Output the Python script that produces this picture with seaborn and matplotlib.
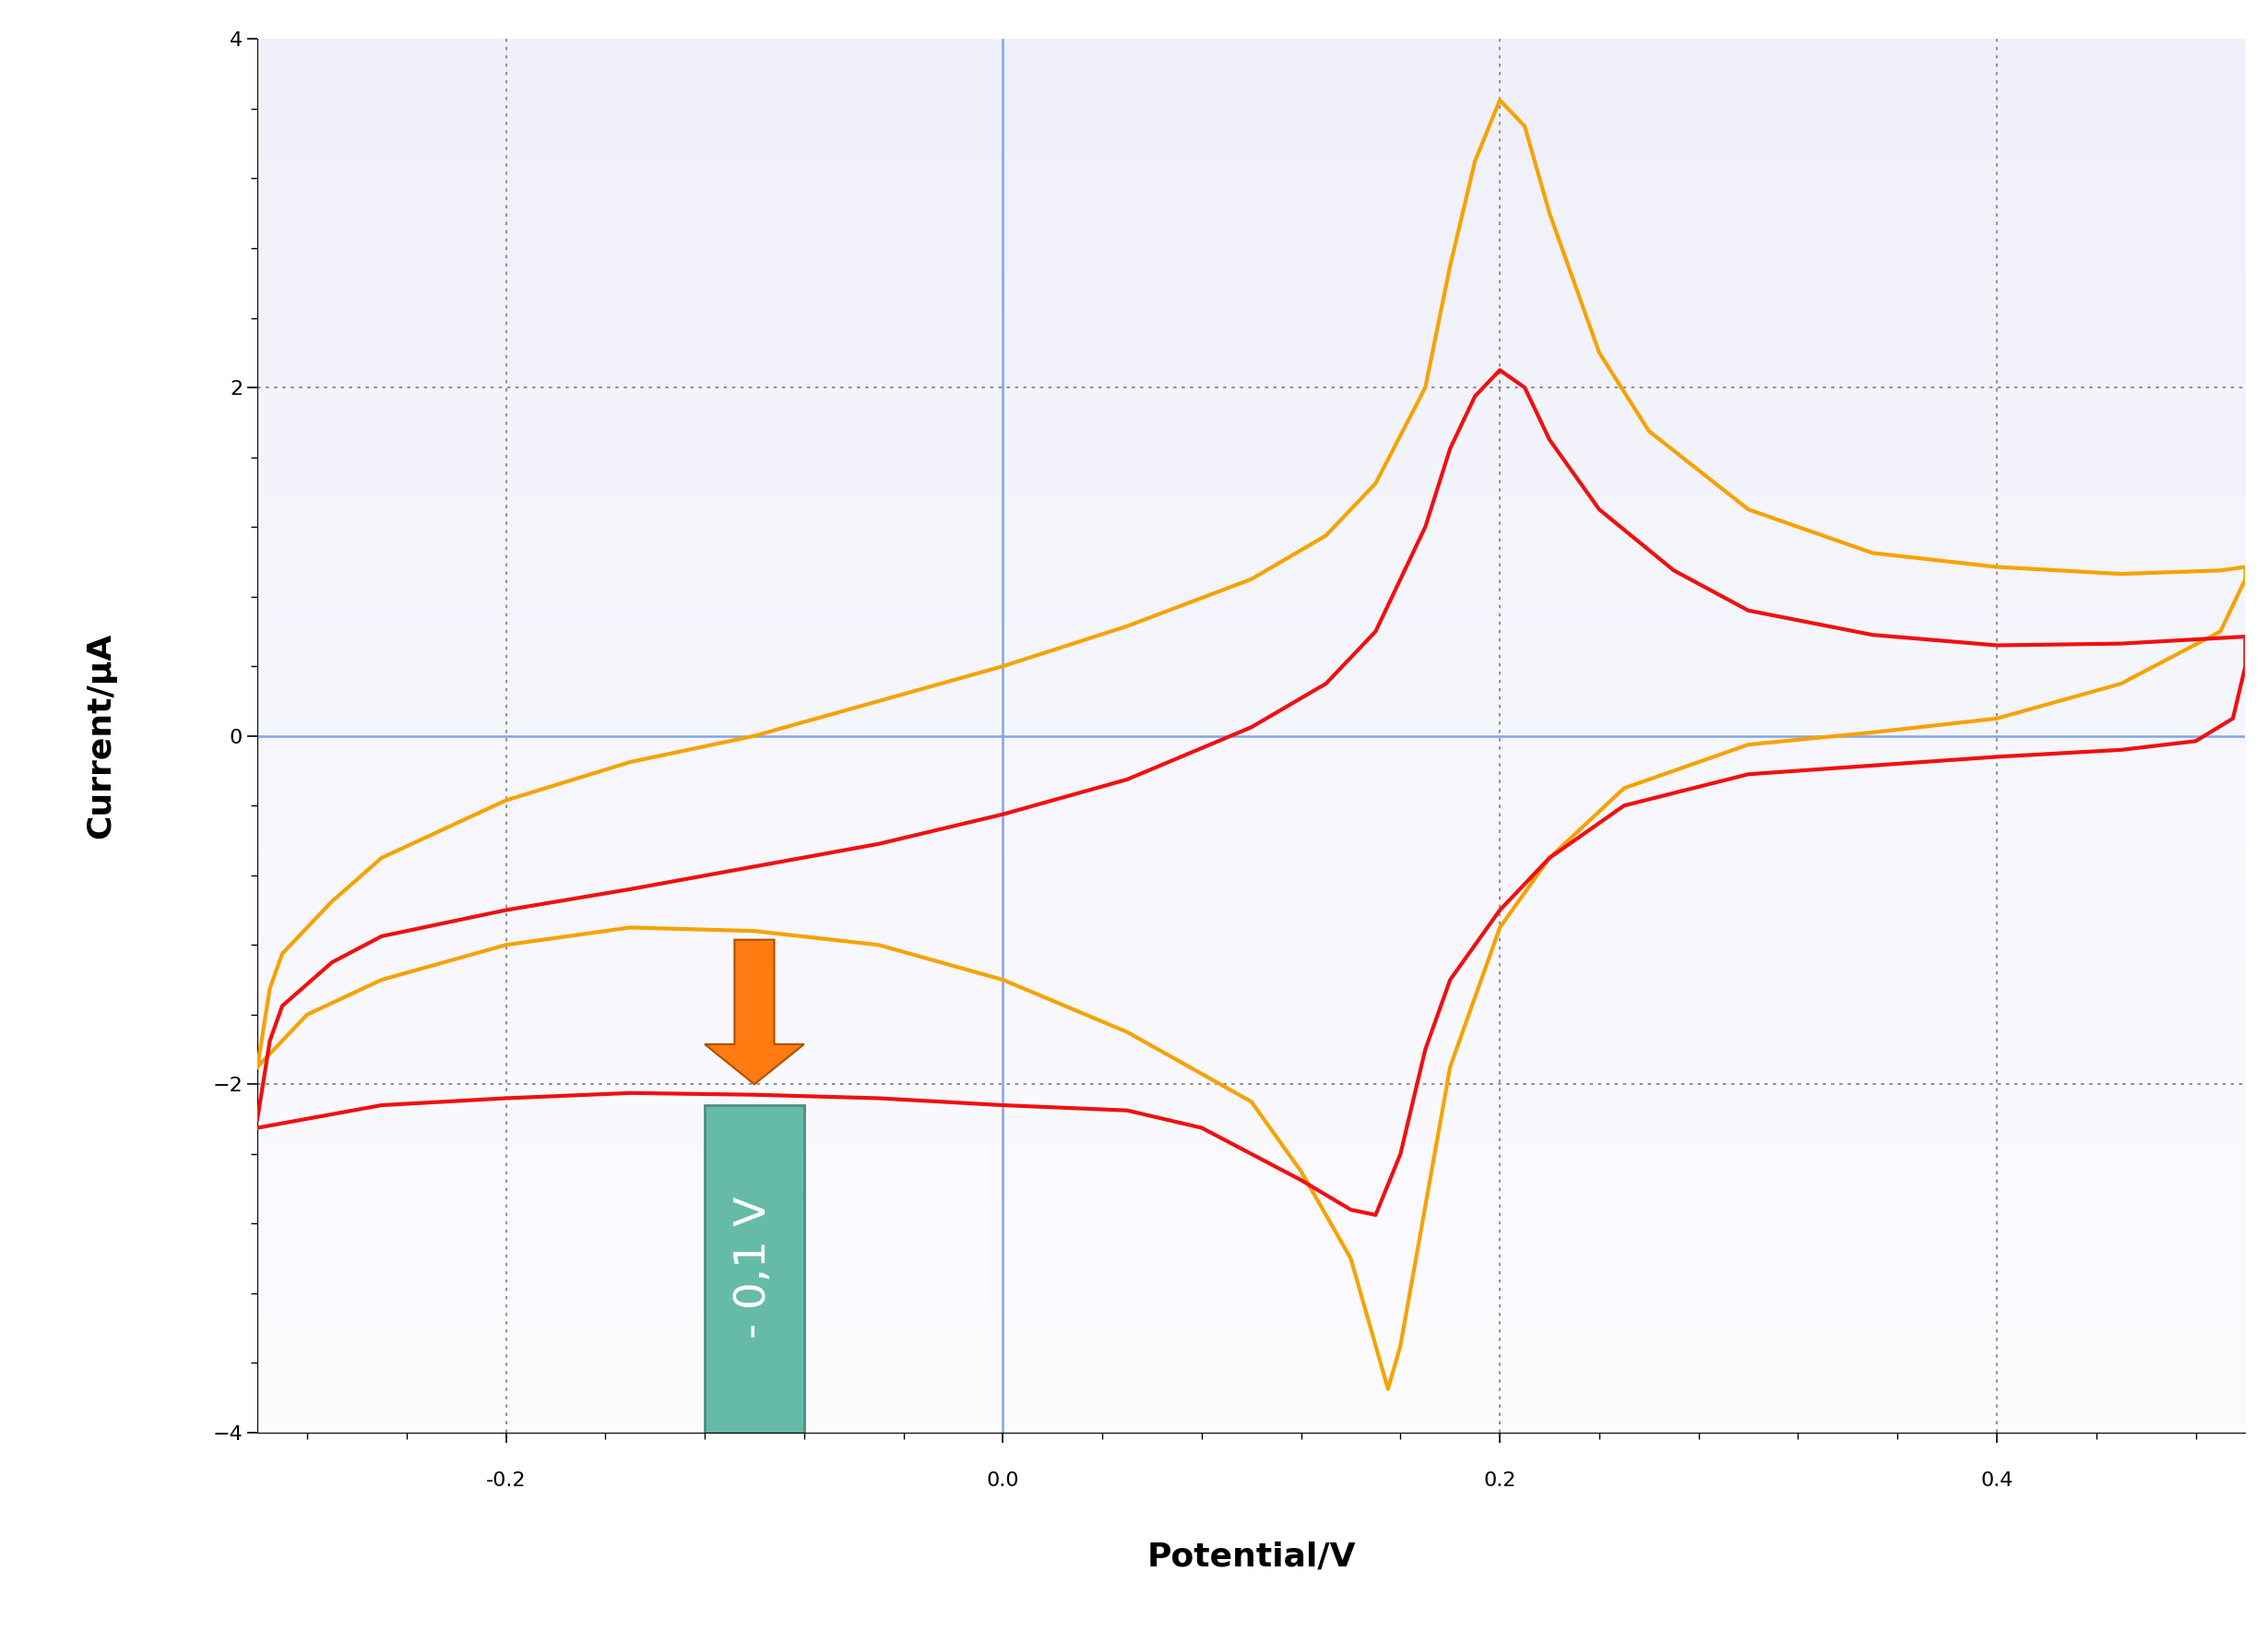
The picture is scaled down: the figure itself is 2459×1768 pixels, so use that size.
import numpy as np
import pandas as pd
import matplotlib
matplotlib.use("Agg")
import matplotlib.pyplot as plt
import seaborn as sns
from matplotlib.patches import FancyArrow, Rectangle
from matplotlib.ticker import MultipleLocator

# Curva naranja (ida y vuelta)
naranja_e = [-0.3, -0.295, -0.29, -0.27, -0.25, -0.2, -0.15, -0.1, -0.05, 0.0, 0.05, 0.1, 0.13, 0.15,
             0.17, 0.18, 0.19, 0.2, 0.21, 0.22, 0.24, 0.26, 0.3, 0.35, 0.4, 0.45, 0.49, 0.5,
             0.5, 0.49, 0.45, 0.4, 0.35, 0.3, 0.25, 0.22, 0.2, 0.18, 0.17, 0.16, 0.155, 0.15,
             0.14, 0.12, 0.1, 0.05, 0.0, -0.05, -0.1, -0.15, -0.2, -0.25, -0.28, -0.3]
naranja_i = [-1.9, -1.45, -1.25, -0.95, -0.7, -0.37, -0.15, 0.0, 0.2, 0.4, 0.63, 0.9, 1.15, 1.45,
             2.0, 2.7, 3.3, 3.65, 3.5, 3.0, 2.2, 1.75, 1.3, 1.05, 0.97, 0.93, 0.95, 0.97,
             0.9, 0.6, 0.3, 0.1, 0.02, -0.05, -0.3, -0.7, -1.1, -1.9, -2.7, -3.5, -3.75, -3.5,
             -3.0, -2.5, -2.1, -1.7, -1.4, -1.2, -1.12, -1.1, -1.2, -1.4, -1.6, -1.9]

# Curva roja (ida y vuelta)
roja_e = [-0.3, -0.295, -0.29, -0.27, -0.25, -0.2, -0.15, -0.1, -0.05, 0.0, 0.05, 0.1, 0.13, 0.15,
          0.17, 0.18, 0.19, 0.2, 0.21, 0.22, 0.24, 0.27, 0.3, 0.35, 0.4, 0.45, 0.5,
          0.5, 0.495, 0.48, 0.45, 0.4, 0.35, 0.3, 0.25, 0.22, 0.2, 0.18, 0.17, 0.16, 0.15,
          0.14, 0.12, 0.1, 0.08, 0.05, 0.0, -0.05, -0.1, -0.15, -0.2, -0.25, -0.3]
roja_i = [-2.2, -1.75, -1.55, -1.3, -1.15, -1.0, -0.88, -0.75, -0.62, -0.45, -0.25, 0.05, 0.3, 0.6,
          1.2, 1.65, 1.95, 2.1, 2.0, 1.7, 1.3, 0.95, 0.72, 0.58, 0.52, 0.53, 0.57,
          0.4, 0.1, -0.03, -0.08, -0.12, -0.17, -0.22, -0.4, -0.7, -1.0, -1.4, -1.8, -2.4, -2.75,
          -2.72, -2.55, -2.4, -2.25, -2.15, -2.12, -2.08, -2.06, -2.05, -2.08, -2.12, -2.25]

fig = plt.figure(figsize=(24.59, 17.68), dpi=100)
ax = fig.add_axes([0.1135, 0.1216, 0.8765, 0.8544])

# Fondo degradado lavanda
grad = np.linspace(0, 1, 256).reshape(-1, 1)
ax.imshow(grad, extent=[-0.3, 0.5, -4, 4], aspect="auto", cmap=matplotlib.colors.LinearSegmentedColormap.from_list(
    "fondo", ["#f0f0fa", "#fcfcff"]), zorder=0, origin="upper")

for x in [-0.2, 0.2, 0.4]:
    ax.axvline(x, color="#888888", ls=(0, (2, 3)), lw=1.3, zorder=1)
for y in [-2, 2]:
    ax.axhline(y, color="#888888", ls=(0, (2, 3)), lw=1.3, zorder=1)
ax.axvline(0, color="#7fa6e8", lw=1.8, zorder=1)
ax.axhline(0, color="#7fa6e8", lw=1.8, zorder=1)

df_n = pd.DataFrame({"e": naranja_e, "i": naranja_i})
df_r = pd.DataFrame({"e": roja_e, "i": roja_i})
sns.lineplot(data=df_n, x="e", y="i", sort=False, estimator=None, errorbar=None,
             color="#f5a300", lw=3, ax=ax, zorder=3)
sns.lineplot(data=df_r, x="e", y="i", sort=False, estimator=None, errorbar=None,
             color="#f01010", lw=3, ax=ax, zorder=3)

# Flecha y etiqueta de -0,1 V
ax.add_patch(FancyArrow(-0.1, -1.17, 0, -0.83, width=0.016, head_width=0.04, head_length=0.23,
                        length_includes_head=True, facecolor="#ff7a10", edgecolor="#b05000", lw=1.5, zorder=5))
ax.add_patch(Rectangle((-0.12, -4), 0.04, 1.88, facecolor="#66bba8", edgecolor="#4a8f80", lw=2, zorder=5))
ax.text(-0.1, -3.05, "- 0,1 V", rotation=90, ha="center", va="center", color="white", fontsize=34, zorder=6)

ax.set_xlim(-0.3, 0.5)
ax.set_ylim(-4, 4)
ax.set_xticks([-0.2, 0.0, 0.2, 0.4])
ax.set_xticklabels(["-0.2", "0.0", "0.2", "0.4"])
ax.set_yticks([-4, -2, 0, 2, 4])
ax.xaxis.set_minor_locator(MultipleLocator(0.04))
ax.yaxis.set_minor_locator(MultipleLocator(0.4))
ax.tick_params(labelsize=16, length=8, width=1.2)
ax.tick_params(which="minor", length=5, width=1)
ax.tick_params(axis="x", pad=22)
for s in ["top", "right"]:
    ax.spines[s].set_visible(False)
ax.set_xlabel("Potential/V", fontsize=26, fontweight="bold", labelpad=40)
ax.set_ylabel("Current/µA", fontsize=26, fontweight="bold", labelpad=75)

fig.savefig("out.png", dpi=100)
